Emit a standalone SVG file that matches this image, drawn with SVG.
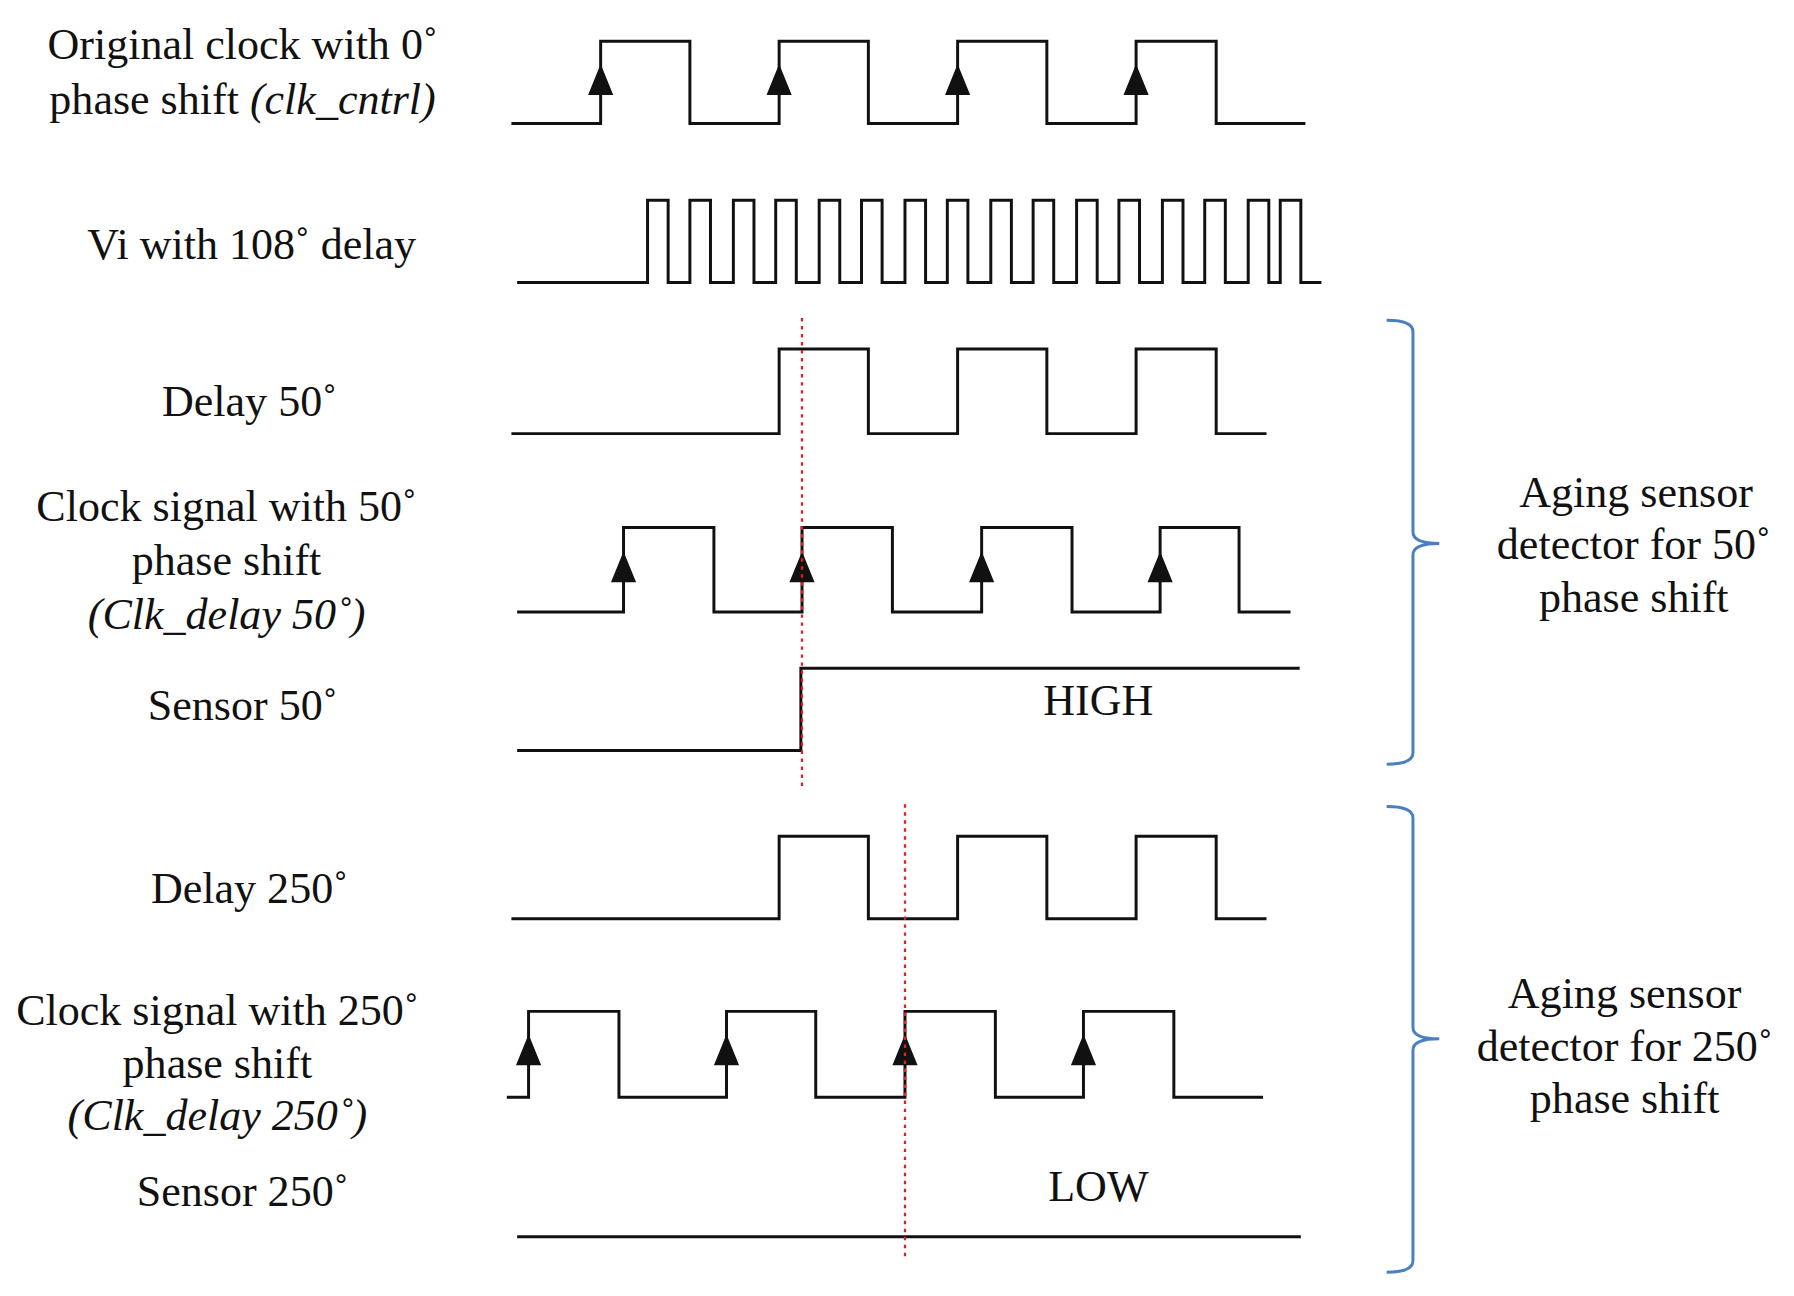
<svg xmlns="http://www.w3.org/2000/svg" width="1794" height="1296" viewBox="0 0 1794 1296">
<style>
.t{font-family:"Liberation Serif",serif;font-size:38.5px;fill:#111;text-anchor:middle}
.i{font-style:italic}
.w{fill:none;stroke:#111;stroke-width:2.6}
.r{stroke:#e02020;stroke-width:2;stroke-dasharray:3,4;fill:none}
.b{fill:none;stroke:#4a7fc1;stroke-width:2.6}
</style>
<rect width="1794" height="1296" fill="#fff"/>
<g transform="scale(1.1441)">
<g id="labels">
<text class="t" x="212" y="52">Original clock with 0˚</text>
<text class="t" x="212" y="100">phase shift <tspan class="i">(clk_cntrl)</tspan></text>
<text class="t" x="220" y="226">Vi with 108˚ delay</text>
<text class="t" x="218" y="364">Delay 50˚</text>
<text class="t" x="198" y="455">Clock signal with 50˚</text>
<text class="t" x="198" y="503">phase shift</text>
<text class="t i" x="198" y="550">(Clk_delay 50˚)</text>
<text class="t" x="212" y="629">Sensor 50˚</text>
<text class="t" x="960" y="625">HIGH</text>
<text class="t" x="218" y="789">Delay 250˚</text>
<text class="t" x="190" y="896">Clock signal with 250˚</text>
<text class="t" x="190" y="942">phase shift</text>
<text class="t i" x="190" y="988">(Clk_delay 250˚)</text>
<text class="t" x="212" y="1054">Sensor 250˚</text>
<text class="t" x="960" y="1050">LOW</text>
<text class="t" x="1430" y="443">Aging sensor</text>
<text class="t" x="1428" y="489">detector for 50˚</text>
<text class="t" x="1428" y="535">phase shift</text>
<text class="t" x="1420" y="881">Aging sensor</text>
<text class="t" x="1420" y="927">detector for 250˚</text>
<text class="t" x="1420" y="973">phase shift</text>
</g>
<g id="signals">
<path class="w" d="M447,108H525V36H603V108H681V36H759V108H837V36H915V108H993V36H1063V108H1141"/>
<path class="w" d="M452,247H566V175H584V247H603V175H621V247H641V175H659V247H678V175H696V247H716V175H734V247H753V175H771V247H791V175H809V247H828V175H846V247H866V175H884V247H903V175H921V247H941V175H959V247H978V175H996V247H1016V175H1034V247H1053V175H1071V247H1091V175H1109V247H1119V175H1137V247H1155"/>
<path class="w" d="M447,379H681V305H759V379H837V305H915V379H993V305H1063V379H1107"/>
<path class="w" d="M452,535H545V461H624V535H701V461H780V535H858V461H937V535H1014V461H1083V535H1128"/>
<path class="w" d="M452,656H700V584H1136"/>
<path class="w" d="M447,803H681V731H759V803H837V731H915V803H993V731H1063V803H1107"/>
<path class="w" d="M443,959H462V884H541V959H635V884H713V959H791V884H870V959H947V884H1026V959H1104"/>
<path class="w" d="M452,1081H1137"/>
</g>
<g id="arrows" fill="#111">
<path d="M525,56l-11,27h22z M681,56l-11,27h22z M837,56l-11,27h22z M993,56l-11,27h22z"/>
<path d="M545,482l-11,27h22z M701,482l-11,27h22z M858,482l-11,27h22z M1014,482l-11,27h22z"/>
<path d="M462,904l-11,27h22z M635,904l-11,27h22z M791,904l-11,27h22z M947,904l-11,27h22z"/>
</g>
<g id="connectors">
<path class="r" d="M701,278V688"/>
<path class="r" d="M791,703V1100"/>
<path class="b" d="M1212,280Q1235,280 1235,290V465Q1235,475 1258,475Q1235,475 1235,485V658Q1235,668 1212,668"/>
<path class="b" d="M1212,705Q1235,705 1235,715V898Q1235,908 1258,908Q1235,908 1235,918V1102Q1235,1112 1212,1112"/>
</g>
</g>
</svg>
